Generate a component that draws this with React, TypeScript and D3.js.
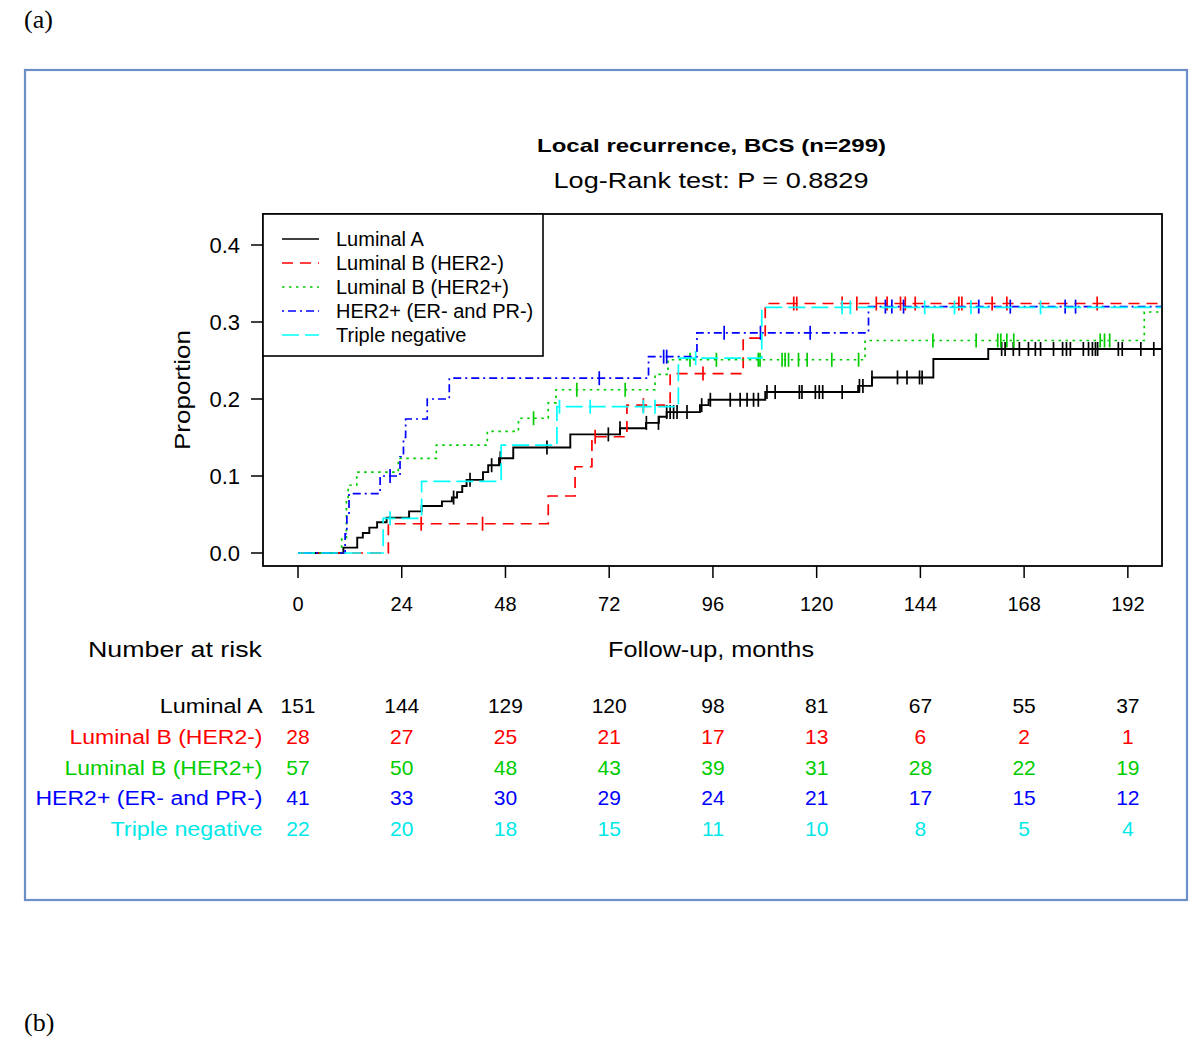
import React from "react";
import * as d3 from "d3";

// ---------- data ----------
const monthTicks = [0, 24, 48, 72, 96, 120, 144, 168, 192];
const yTicks = [0, 0.1, 0.2, 0.3, 0.4];
const groupNames = [
  "Luminal A",
  "Luminal B (HER2-)",
  "Luminal B (HER2+)",
  "HER2+ (ER- and PR-)",
  "Triple negative",
];

// step events: [month, cumulative proportion]
const lumAEvents: [number, number][] = [
  [10.5, 0.007], [13.7, 0.02], [15, 0.026], [16.5, 0.033], [18.3, 0.04], [20.5, 0.046],
  [25.7, 0.054], [28.6, 0.061], [33.3, 0.067], [35.6, 0.072], [36.8, 0.079], [38, 0.087],
  [39, 0.095], [42.8, 0.105], [44, 0.114], [46.5, 0.123], [49.8, 0.137], [63, 0.154],
  [74.5, 0.162], [80.5, 0.169], [83.5, 0.177], [85.3, 0.183], [93, 0.192], [95, 0.199],
  [108.1, 0.209], [129.6, 0.217], [132.8, 0.228], [147, 0.252], [159.7, 0.265],
];
const lumACensor = [
  36, 39.8, 44.8, 46.8, 57.6, 71.8, 74.5, 80.6, 83.4, 85.3, 86.1, 86.9, 87.7, 90, 93.4, 95.4,
  100, 102.3, 103.9, 105.4, 106.5, 108.5, 110.4, 116, 116.6, 119.7, 120.6, 121.4, 125.9,
  129.9, 130.7, 132.8, 138.7, 140.9, 143.8, 144.4, 162.8, 163.6, 165.5, 166.9, 169, 170.6,
  171.8, 174.8, 176.9, 177.8, 178.7, 181.7, 182.9, 183.8, 184.5, 185, 189.8, 190.7, 195, 198,
];

const lumBNegEvents: [number, number][] = [
  [20.9, 0.038], [57.9, 0.074], [64.1, 0.112], [68, 0.151], [76.1, 0.192], [86.1, 0.233],
  [103, 0.279], [108.1, 0.324],
];
const lumBNegCensor = [
  28.5, 42.7, 68.75, 79.9, 93.7, 114.7, 115.4, 125.9, 129.3, 133.8, 136.3, 139.4, 140.5,
  142.8, 152.9, 153.6, 160.6, 164, 184.9,
];

const lumBPosEvents: [number, number][] = [
  [10.1, 0.018], [11.2, 0.07], [11.6, 0.088], [13.6, 0.105], [23.2, 0.123], [32, 0.14],
  [43.8, 0.158], [51, 0.175], [57.9, 0.195], [59.7, 0.212], [82.6, 0.232], [85.6, 0.251],
  [131.2, 0.276], [195.8, 0.313],
];
const lumBPosCensor = [
  54.5, 64.5, 75.7, 90.7, 96.8, 106.5, 106.9, 112, 112.7, 113.5, 115.8, 117.8, 123.5, 129.7,
  146.9, 156.9, 161.9, 162.6, 164, 165.6, 185.6, 186.6, 187.8,
];

const her2Events: [number, number][] = [
  [10.9, 0.025], [11.3, 0.05], [11.8, 0.077], [19, 0.1], [23.6, 0.125], [24.4, 0.15],
  [24.9, 0.174], [29.9, 0.2], [35, 0.227], [81.1, 0.255], [92.3, 0.286], [132, 0.32],
];
const her2Censor = [
  21.3, 69.7, 84.6, 85.3, 98.6, 107, 118.5, 135.9, 137.4, 140.1, 157.5, 164.8, 177.5, 179.9,
];

const tnEvents: [number, number][] = [
  [19.7, 0.045], [28.6, 0.093], [47, 0.14], [59.9, 0.19], [88, 0.253], [107.3, 0.319],
];
const tnCensor = [21.3, 60.5, 67.6, 79.9, 82.6, 92, 125.9, 127.8, 145, 151.9, 155.7, 171.8];

const followUpEnd = [199.8, 199.8, 199.8, 199.8, 199.8];

// numbers at risk
const lumARisk = [151, 144, 129, 120, 98, 81, 67, 55, 37];
const lumBNegRisk = [28, 27, 25, 21, 17, 13, 6, 2, 1];
const lumBPosRisk = [57, 50, 48, 43, 39, 31, 28, 22, 19];
const her2Risk = [41, 33, 30, 29, 24, 21, 17, 15, 12];
const tnRisk = [22, 20, 18, 15, 11, 10, 8, 5, 4];

// ---------- styles ----------
const groupColors = ["#000000", "#FF0000", "#00CD00", "#0000FF", "#00FFFF"];
const groupDash = ["none", "11,7", "2.5,4.5", "2,4,8,4", "17,6"];
const SANS = "'Liberation Sans', Arial, Helvetica, sans-serif";
const SERIF = "'Liberation Serif', 'Times New Roman', serif";

function valueAt(events: [number, number][], t: number) {
  let v = 0;
  for (const [et, ev] of events) if (et <= t) v = ev;
  return v;
}

export default function App() {
  const x = d3.scaleLinear().domain([-8.1, 199.9]).range([263, 1162]);
  const y = d3.scaleLinear().domain([0, 0.4]).range([553, 245]);
  const line = d3
    .line<[number, number]>()
    .x((d) => x(d[0]))
    .y((d) => y(d[1]))
    .curve(d3.curveStepAfter);

  const allEvents = [lumAEvents, lumBNegEvents, lumBPosEvents, her2Events, tnEvents];
  const allCensor = [lumACensor, lumBNegCensor, lumBPosCensor, her2Censor, tnCensor];
  const allRisk = [lumARisk, lumBNegRisk, lumBPosRisk, her2Risk, tnRisk];

  const series = groupNames.map((name, i) => {
    const ev = allEvents[i];
    const pts: [number, number][] = [[0, 0], ...ev, [followUpEnd[i], ev[ev.length - 1][1]]];
    return { name, i, path: line(pts) || "", censor: allCensor[i].map((t) => [t, valueAt(ev, t)]) };
  });

  const riskLabelWidths = [102.7, 193, 198, 227, 152];
  const riskBaselines = [713, 744, 775, 805, 836];
  const legendRows = [239, 263, 287, 311, 335];

  const plotL = 263, plotR = 1162, plotT = 214, plotB = 566;

  return (
    <svg
      width={1200}
      height={1041}
      style={{ position: "absolute", left: 0, top: 0, background: "#fff" }}
      fontFamily={SANS}
    >
      <rect x={0} y={0} width={1200} height={1041} fill="#fff" />
      <text x={24} y={28} fontFamily={SERIF} fontSize={26}>(a)</text>
      <text x={24} y={1031} fontFamily={SERIF} fontSize={26}>(b)</text>
      <rect x={25} y={70} width={1162} height={830} fill="none" stroke="#6d8fc7" strokeWidth={2.2} />

      {/* titles */}
      <text x={711.5} y={152} textAnchor="middle" fontSize={19} fontWeight="bold" textLength={349} lengthAdjust="spacingAndGlyphs">
        Local recurrence, BCS (n=299)
      </text>
      <text x={711} y={188} textAnchor="middle" fontSize={22} textLength={315} lengthAdjust="spacingAndGlyphs">
        Log-Rank test: P = 0.8829
      </text>

      <defs>
        <clipPath id="plotclip">
          <rect x={plotL} y={plotT} width={plotR - plotL} height={plotB - plotT} />
        </clipPath>
      </defs>

      {/* curves */}
      <g clipPath="url(#plotclip)">
        {series.map((s) => (
          <g key={s.name}>
            <path
              d={s.path}
              fill="none"
              stroke={groupColors[s.i]}
              strokeWidth={s.i === 0 ? 1.9 : 1.7}
              strokeDasharray={groupDash[s.i]}
            />
            {s.censor.map(([t, v], k) => (
              <line
                key={k}
                x1={x(t)}
                x2={x(t)}
                y1={y(v) - 7}
                y2={y(v) + 7}
                stroke={groupColors[s.i]}
                strokeWidth={1.7}
              />
            ))}
          </g>
        ))}
      </g>

      {/* plot box */}
      <rect x={plotL} y={plotT} width={plotR - plotL} height={plotB - plotT} fill="none" stroke="#000" strokeWidth={1.8} />

      {/* y axis */}
      {yTicks.map((v) => (
        <g key={v}>
          <line x1={251} x2={plotL} y1={y(v)} y2={y(v)} stroke="#000" strokeWidth={1.5} />
          <text x={240} y={y(v) + 8} textAnchor="end" fontSize={22}>
            {v.toFixed(1)}
          </text>
        </g>
      ))}
      <text
        transform="translate(190,390) rotate(-90)"
        textAnchor="middle"
        fontSize={22}
        textLength={120}
        lengthAdjust="spacingAndGlyphs"
      >
        Proportion
      </text>

      {/* x axis */}
      {monthTicks.map((m) => (
        <g key={m}>
          <line x1={x(m)} x2={x(m)} y1={plotB} y2={578} stroke="#000" strokeWidth={1.5} />
          <text x={x(m)} y={611} textAnchor="middle" fontSize={20}>
            {m}
          </text>
        </g>
      ))}

      {/* legend */}
      <rect x={plotL} y={plotT} width={280} height={142} fill="#fff" stroke="#000" strokeWidth={1.6} />
      {groupNames.map((n, i) => (
        <g key={n}>
          <line
            x1={282}
            x2={319}
            y1={legendRows[i]}
            y2={legendRows[i]}
            stroke={groupColors[i]}
            strokeWidth={1.7}
            strokeDasharray={groupDash[i]}
          />
          <text x={336} y={legendRows[i] + 7} fontSize={20}>
            {n}
          </text>
        </g>
      ))}

      {/* number at risk */}
      <text x={88} y={657} fontSize={22} textLength={174} lengthAdjust="spacingAndGlyphs">
        Number at risk
      </text>
      <text x={711} y={657} textAnchor="middle" fontSize={22} textLength={206} lengthAdjust="spacingAndGlyphs">
        Follow-up, months
      </text>
      {groupNames.map((n, i) => (
        <g key={n} fill={groupColors[i] === "#00FFFF" ? "#00E8E8" : groupColors[i]}>
          <text
            x={262.5}
            y={riskBaselines[i]}
            textAnchor="end"
            fontSize={20}
            textLength={riskLabelWidths[i]}
            lengthAdjust="spacingAndGlyphs"
          >
            {n}
          </text>
          {allRisk[i].map((r, k) => (
            <text key={k} x={x(monthTicks[k])} y={riskBaselines[i]} textAnchor="middle" fontSize={21}>
              {r}
            </text>
          ))}
        </g>
      ))}
    </svg>
  );
}
